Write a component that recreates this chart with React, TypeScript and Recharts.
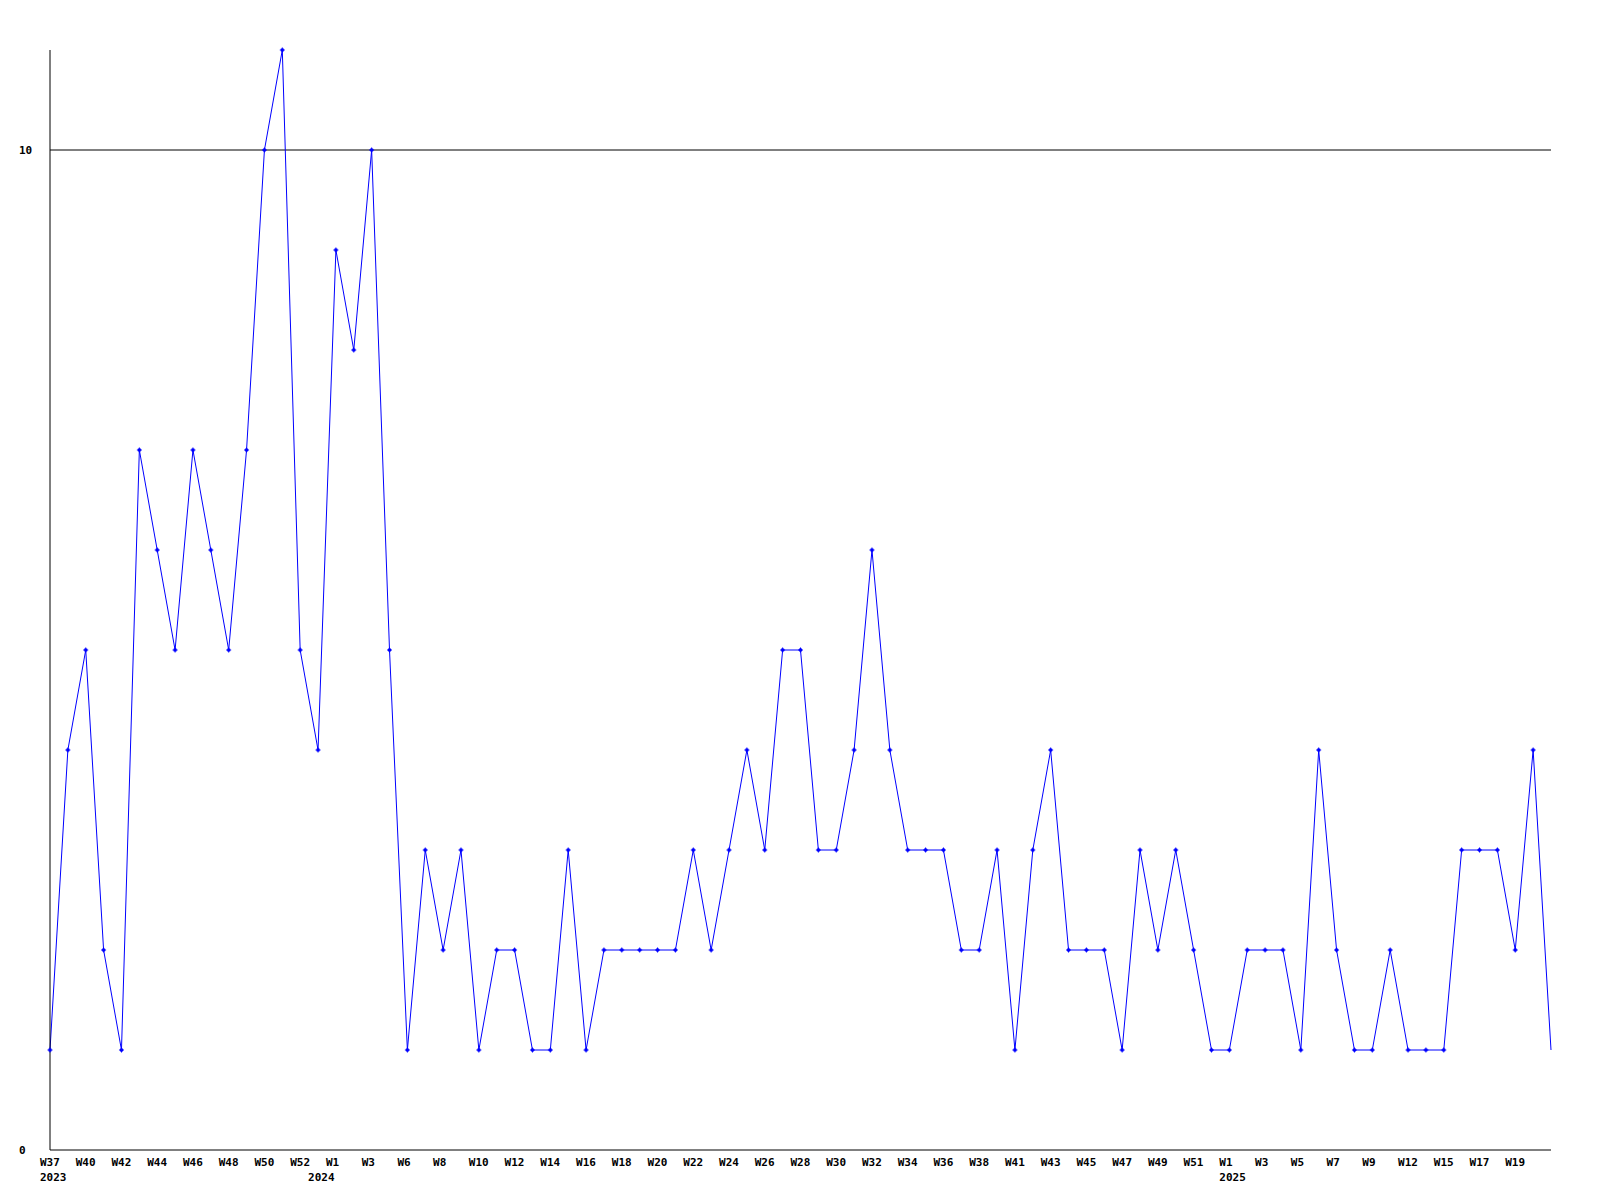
import React from 'react';
import { LineChart, Line, XAxis, YAxis, ReferenceLine } from 'recharts';

// week labels, one per point (only every other one is printed)
const weeks = [
  'W37', 'W38', 'W40', 'W41', 'W42', 'W43', 'W44', 'W45', 'W46', 'W47', 'W48', 'W49', 'W50', 'W51', 'W52', 'W53',
  'W1', 'W2', 'W3', 'W4', 'W6', 'W7', 'W8', 'W9', 'W10', 'W11', 'W12', 'W13', 'W14', 'W15', 'W16', 'W17',
  'W18', 'W19', 'W20', 'W21', 'W22', 'W23', 'W24', 'W25', 'W26', 'W27', 'W28', 'W29', 'W30', 'W31', 'W32', 'W33',
  'W34', 'W35', 'W36', 'W37', 'W38', 'W39', 'W41', 'W42', 'W43', 'W44', 'W45', 'W46', 'W47', 'W48', 'W49', 'W50',
  'W51', 'W52', 'W1', 'W2', 'W3', 'W4', 'W5', 'W6', 'W7', 'W8', 'W9', 'W10', 'W12', 'W13', 'W15', 'W16',
  'W17', 'W18', 'W19', 'W20', 'W21',
];

// year marks under the week labels (index -> year)
const yearIndex = [0, 15, 66];
const yearText = ['2023', '2024', '2025'];

const counts = [
  1, 4, 5, 2, 1, 7, 6, 5, 7, 6, 5, 7, 10, 11, 5, 4,
  9, 8, 10, 5, 1, 3, 2, 3, 1, 2, 2, 1, 1, 3, 1, 2,
  2, 2, 2, 2, 3, 2, 3, 4, 3, 5, 5, 3, 3, 4, 6, 4,
  3, 3, 3, 2, 2, 3, 1, 3, 4, 2, 2, 2, 1, 3, 2, 3,
  2, 1, 1, 2, 2, 2, 1, 4, 2, 1, 1, 2, 1, 1, 1, 3,
  3, 3, 2, 4, 1,
];

const yTicks = [0, 10];

const data = weeks.map((w, i) => ({ idx: i, week: w, count: counts[i] }));

const FONT = '"DejaVu Sans Mono", monospace';

const WeekTick = (props: any) => {
  const { x, y, index } = props;
  const yi = yearIndex.indexOf(index);
  const showWeek = index % 2 === 0 && index < data.length - 1;
  return (
    <g>
      {showWeek && (
        <text x={x - 10} y={y + 16} fontFamily={FONT} fontSize={11} fontWeight="bold" fill="#000" textAnchor="start">
          {weeks[index]}
        </text>
      )}
      {yi >= 0 && (
        <text x={x - 10} y={y + 31} fontFamily={FONT} fontSize={11} fontWeight="bold" fill="#000" textAnchor="start">
          {yearText[yi]}
        </text>
      )}
    </g>
  );
};

const CountTick = (props: any) => {
  const { y, payload } = props;
  return (
    <text x={19} y={y + 4} fontFamily={FONT} fontSize={11} fontWeight="bold" fill="#000" textAnchor="start">
      {payload.value}
    </text>
  );
};

// small blue cross marker; the last point has none
const Marker = (props: any) => {
  const { cx, cy, index } = props;
  if (index === data.length - 1) return null;
  return (
    <g key={`m-${index}`}>
      <rect x={cx - 1.5} y={cy - 1.5} width={3} height={3} fill="#0000ff" />
      <line x1={cx - 2.5} x2={cx + 2.5} y1={cy} y2={cy} stroke="#0000ff" strokeWidth={1} />
      <line x1={cx} x2={cx} y1={cy - 2.5} y2={cy + 2.5} stroke="#0000ff" strokeWidth={1} />
    </g>
  );
};

export default function App() {
  return (
    <div style={{ width: 1600, height: 1200, background: '#fff' }}>
      <style>{'body{margin:0;}'}</style>
      <LineChart width={1600} height={1200} data={data} margin={{ top: 50, right: 49, left: 0, bottom: 0 }}>
        <XAxis
          dataKey="idx"
          type="category"
          interval={0}
          tickLine={false}
          tickSize={0}
          tickMargin={0}
          height={50}
          axisLine={{ stroke: '#000', strokeWidth: 1 }}
          tick={<WeekTick />}
        />
        <YAxis
          domain={[0, 11]}
          ticks={yTicks}
          width={50}
          tickLine={false}
          tickSize={0}
          axisLine={{ stroke: '#000', strokeWidth: 1 }}
          tick={<CountTick />}
        />
        <ReferenceLine y={10} stroke="#000" strokeWidth={1} />
        <Line
          type="linear"
          dataKey="count"
          stroke="#0000ff"
          strokeWidth={1}
          dot={<Marker />}
          activeDot={false}
          isAnimationActive={false}
        />
      </LineChart>
    </div>
  );
}
